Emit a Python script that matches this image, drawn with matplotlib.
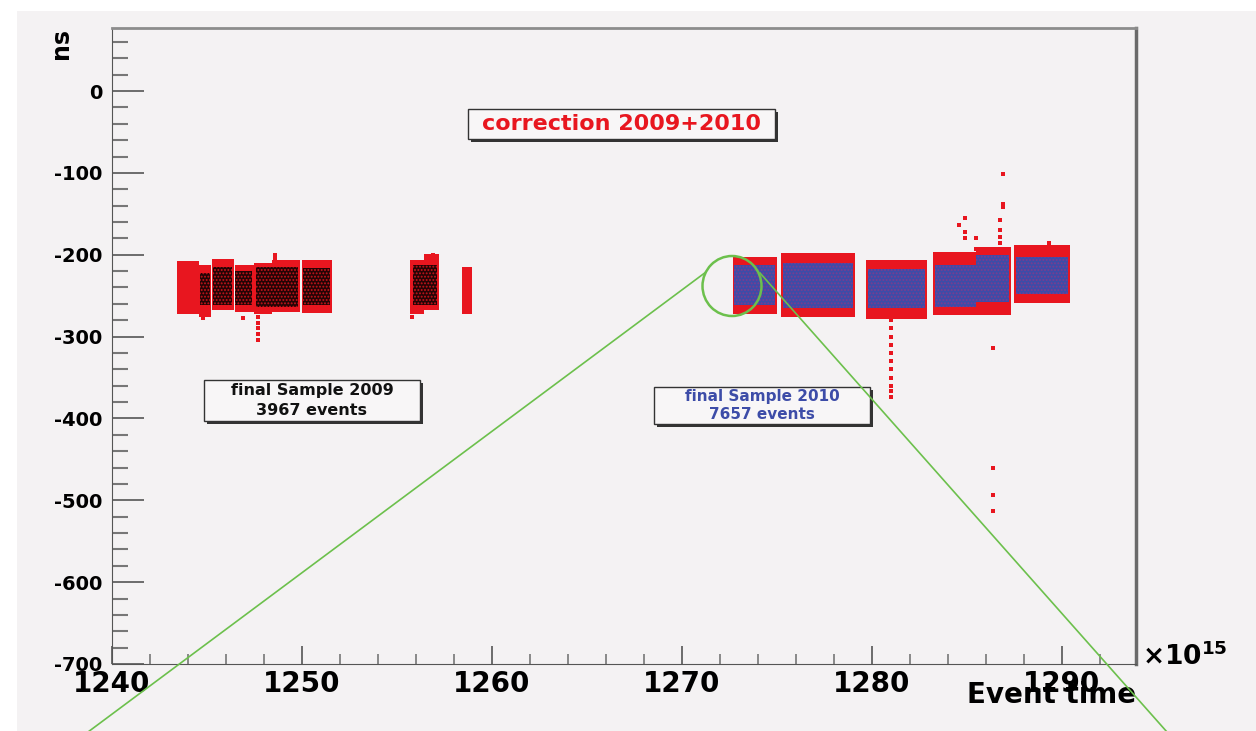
import numpy as np
import matplotlib.pyplot as plt
from matplotlib.patches import Rectangle, Ellipse
from matplotlib.lines import Line2D
from matplotlib.ticker import MultipleLocator

# clusters of events, x in units of 1e15, y in ns
# all events 2009 (red band per run block)
all09_start = [1243.4, 1244.6, 1245.25, 1246.45, 1247.5, 1248.4, 1250.0, 1255.7, 1256.4, 1258.4]
all09_end = [1244.6, 1245.2, 1246.4, 1247.45, 1248.4, 1249.9, 1251.6, 1256.4, 1257.2, 1258.95]
all09_low = [-272, -276, -268, -270, -272, -270, -271, -273, -268, -272]
all09_high = [-208, -213, -205, -212, -210, -206, -207, -206, -199, -215]

# final sample 2009 (black core)
fin09_start = [1244.65, 1245.3, 1246.5, 1247.6, 1250.05, 1255.85]
fin09_end = [1245.15, 1246.3, 1247.35, 1249.8, 1251.5, 1257.1]
fin09_low = [-262, -262, -262, -264, -262, -262]
fin09_high = [-222, -215, -220, -215, -216, -212]

# all events 2010
all10_start = [1272.7, 1275.2, 1279.7, 1283.2, 1285.5, 1287.5]
all10_end = [1275.0, 1279.1, 1282.9, 1285.5, 1287.3, 1290.4]
all10_low = [-272, -276, -278, -274, -274, -259]
all10_high = [-203, -198, -206, -197, -190, -188]

# final sample 2010 (blue core)
fin10_start = [1272.75, 1275.3, 1279.8, 1283.3, 1285.5, 1287.6]
fin10_end = [1274.9, 1279.0, 1282.8, 1285.5, 1287.2, 1290.3]
fin10_low = [-262, -265, -265, -264, -258, -248]
fin10_high = [-213, -210, -218, -212, -200, -203]

# isolated events outside the bands
out_x = [1247.66, 1247.66, 1247.66, 1247.66, 1247.66, 1246.9, 1244.8, 1248.6, 1248.6, 1256.9, 1255.8,
         1281.0, 1281.0, 1281.0, 1281.0, 1281.0, 1281.0, 1281.0, 1281.0, 1281.0, 1281.0, 1281.0,
         1284.9, 1284.6, 1284.9, 1284.9, 1285.5, 1285.5, 1286.9, 1286.9, 1286.9, 1286.75, 1286.75,
         1286.75, 1286.75, 1289.3, 1286.35, 1286.35, 1286.35, 1286.35]
out_y = [-276, -283, -290, -297, -304, -277, -277, -200, -205, -200, -276,
         -280, -290, -300, -310, -320, -330, -340, -350, -360, -367, -374,
         -155, -164, -172, -180, -180, -193, -101, -138, -142, -157, -170,
         -178, -186, -186, -314, -460, -494, -513]

RED = '#e8161f'
BLUE = '#3d4ca8'
PANEL = '#f4f2f3'
GREEN = '#6cc04c'

plt.rcParams['font.family'] = 'DejaVu Sans'
plt.rcParams['font.weight'] = 'bold'
plt.rcParams['axes.labelweight'] = 'bold'
plt.rcParams['axes.unicode_minus'] = False
plt.rcParams['hatch.linewidth'] = 0.9

W, H = 1256, 731
fig = plt.figure(figsize=(W / 100, H / 100), dpi=100, facecolor='white')


def fx(x):
    return x / W


def fy(y):
    return 1 - y / H


# grey canvas behind the frame
fig.patches.append(Rectangle((fx(17), 0), 1 - fx(17), fy(11), transform=fig.transFigure,
                             facecolor=PANEL, edgecolor='none', zorder=-10))

ax = fig.add_axes([fx(112), fy(664), fx(1136) - fx(112), fy(28) - fy(664)])
ax.set_facecolor(PANEL)


def bands(start, end, low, high, **kw):
    s = np.array(start)
    lo = np.array(low)
    ax.bar(s, np.array(high) - lo, width=np.array(end) - s, bottom=lo, align='edge', **kw)


# 2009: red = all events, black = final sample
bands(all09_start, all09_end, all09_low, all09_high, color=RED, linewidth=0, zorder=2)
bands(fin09_start, fin09_end, fin09_low, fin09_high, facecolor='#240405', edgecolor='#c8141b',
      hatch='.....', linewidth=0, zorder=3)
# 2010: red = all events, blue = final sample
bands(all10_start, all10_end, all10_low, all10_high, color=RED, linewidth=0, zorder=2)
bands(fin10_start, fin10_end, fin10_low, fin10_high, facecolor=BLUE, edgecolor='#7d3c8e',
      hatch='.....', linewidth=0, zorder=3)
ax.plot(out_x, out_y, 's', ms=2.9, mew=0, color=RED, zorder=4)

ax.set_xlim(1240, 1293.9)
ax.set_ylim(-700, 77)
ax.xaxis.set_major_locator(MultipleLocator(10))
ax.xaxis.set_minor_locator(MultipleLocator(2))
ax.yaxis.set_major_locator(MultipleLocator(100))
ax.yaxis.set_minor_locator(MultipleLocator(20))

ax.tick_params(axis='y', which='major', direction='in', length=23, width=1.2, color='#555555',
               labelsize=14, pad=7)
ax.tick_params(axis='y', which='minor', direction='in', length=11.5, width=1.5, color='#777777')
ax.tick_params(axis='x', which='major', direction='in', length=13, width=1.2, color='#555555',
               labelsize=20, pad=4)
ax.tick_params(axis='x', which='minor', direction='in', length=7, width=1.2, color='#777777')

ax.spines['left'].set_color('#555555')
ax.spines['bottom'].set_color('#555555')
ax.spines['top'].set_color('#8c8c8c')
ax.spines['top'].set_linewidth(2)
ax.spines['right'].set_color('#6a6a6a')
ax.spines['right'].set_linewidth(2.5)

ax.set_xlabel('Event time', loc='right', fontsize=20)
ax.xaxis.set_label_coords(1.0, -0.026)
ax.set_ylabel('ns', loc='top', fontsize=17)
ax.yaxis.set_label_coords(-0.038, 1.0)
fig.text(fx(1142), fy(665), r'$\times$10$^{\mathbf{15}}$', fontsize=19, ha='left', va='baseline')


def label_box(x0, y0, x1, y1, lines, color, size):
    # framed text box with a small drop shadow
    fig.patches.append(Rectangle((fx(x0 + 3), fy(y1 + 3)), fx(x1 - x0), fy(y0) - fy(y1),
                                 transform=fig.transFigure, facecolor='#333333',
                                 edgecolor='none', zorder=5))
    fig.patches.append(Rectangle((fx(x0), fy(y1)), fx(x1 - x0), fy(y0) - fy(y1),
                                 transform=fig.transFigure, facecolor='#f8f6f7',
                                 edgecolor='#333333', linewidth=1, zorder=6))
    n = len(lines)
    step = (y1 - y0) / n
    for i, t in enumerate(lines):
        fig.text(fx((x0 + x1) / 2), fy(y0 + step * (i + 0.5)), t, color=color, fontsize=size,
                 ha='center', va='center', zorder=7)


label_box(468, 109, 775, 139, ['correction 2009+2010'], RED, 16)
label_box(204, 380, 420, 421, ['final Sample 2009', '3967 events'], '#111111', 11.5)
label_box(654, 387, 870, 424, ['final Sample 2010', '7657 events'], BLUE, 11)

# zoom marker drawn over the frame
fig.add_artist(Ellipse((fx(732), fy(286)), 59 / W, 60 / H, transform=fig.transFigure, fill=False,
                       edgecolor=GREEN, linewidth=1.8, zorder=8))
fig.add_artist(Line2D([fx(88), fx(706)], [fy(732), fy(272)], color=GREEN, linewidth=1.2, zorder=8))
fig.add_artist(Line2D([fx(760), fx(1167)], [fy(273), fy(732)], color=GREEN, linewidth=1.2, zorder=8))

fig.savefig('out.png', dpi=100, facecolor='white')
